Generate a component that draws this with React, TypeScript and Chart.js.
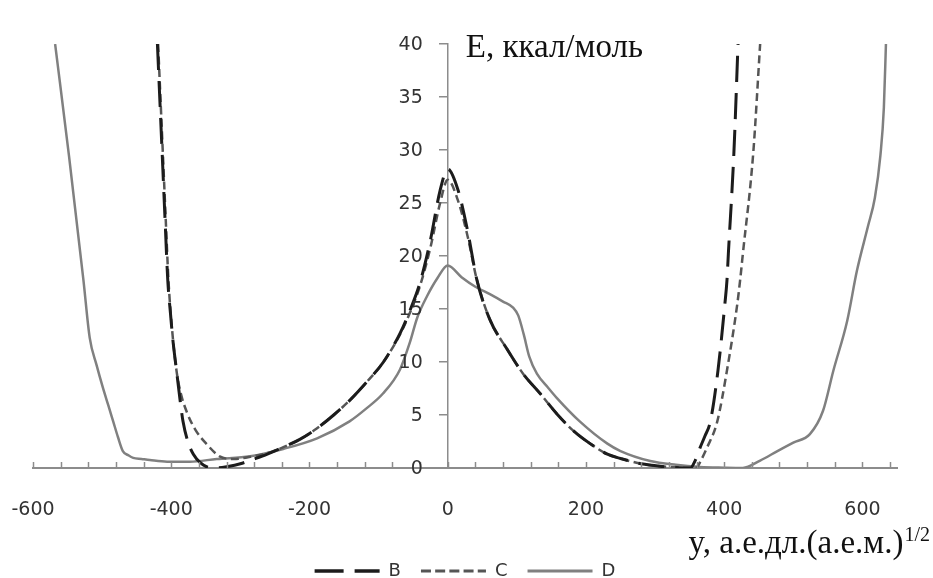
import React, { useEffect, useRef } from 'react';
import { Chart, registerables } from 'chart.js';

Chart.register(...registerables);

// Series B (black long dash)
const bX = [-420, -414, -409, -405, -401, -398, -392, -387, -383, -376, -368, -358, -348, -335, -318, -300, -282, -261, -240, -214, -190, -165, -140, -116, -93, -69, -55, -40, -25, -11, 0, 15, 29, 42, 61, 86, 109, 134, 158, 182, 206, 231, 250, 280, 310, 335, 351, 358, 365, 372, 380, 391, 401, 404, 406, 414, 420];
const bE = [40, 31, 23.5, 17.7, 14.5, 12.3, 9.0, 6.3, 4.4, 2.5, 1.3, 0.5, 0.1, 0.02, 0.15, 0.4, 0.8, 1.3, 1.9, 2.7, 3.7, 5.0, 6.5, 8.2, 10.0, 12.7, 14.8, 17.5, 21.5, 26.2, 28.2, 26.2, 22.3, 17.8, 14.0, 11.2, 8.9, 7.0, 5.1, 3.5, 2.3, 1.3, 0.9, 0.4, 0.15, 0.03, 0, 0.7, 1.9, 3.0, 4.4, 9.2, 15.5, 17.7, 20.2, 29.7, 40];

// Series C (dark grey short dash)
const cX = [-419, -413, -408, -404, -398, -392, -386, -377, -365, -348, -330, -310, -282, -261, -240, -214, -190, -165, -140, -116, -93, -69, -55, -40, -25, -11, 0, 15, 29, 42, 61, 86, 109, 134, 158, 182, 206, 231, 250, 280, 310, 340, 359, 367, 375, 390, 404, 419, 423, 427, 442, 452];
const cE = [40, 31, 23.5, 17.7, 12.5, 9.0, 7.0, 5.2, 3.6, 2.2, 1.1, 0.85, 1.1, 1.4, 1.9, 2.7, 3.7, 5.0, 6.5, 8.2, 10.0, 12.6, 14.6, 17.2, 20.8, 25.0, 27.2, 25.2, 21.8, 17.8, 14.0, 11.2, 8.9, 7.0, 5.1, 3.5, 2.3, 1.3, 0.9, 0.4, 0.15, 0.03, 0, 0.8, 1.9, 4.4, 9.2, 15.5, 17.7, 20.2, 29.7, 40];

// Series D (grey solid)
const dX = [-568, -548, -527, -518, -508, -499, -491, -484, -477, -470, -462, -455, -443, -431, -406, -373, -334, -286, -238, -189, -142, -118, -94, -69, -55, -44, -30, -15, 0, 20, 40, 61, 80, 95, 102, 110, 118, 129, 145, 158, 191, 231, 250, 293, 330, 365, 400, 427, 452, 477, 500, 524, 543, 558, 578, 592, 608, 618, 626, 631, 634];
const dE = [40, 29.5, 17.7, 12.3, 9.7, 7.6, 5.9, 4.4, 2.9, 1.6, 1.2, 0.95, 0.85, 0.75, 0.6, 0.6, 0.85, 1.1, 1.8, 2.8, 4.4, 5.6, 7.0, 9.3, 11.8, 14.2, 16.2, 17.9, 19.1, 18.0, 17.1, 16.4, 15.7, 15.1, 14.4, 12.6, 10.5, 8.9, 7.6, 6.6, 4.4, 2.3, 1.6, 0.66, 0.3, 0.1, 0.03, 0, 0.7, 1.6, 2.4, 3.2, 5.4, 9.2, 13.9, 18.6, 22.8, 25.5, 29.5, 34, 40];

const seriesNames = ['B', 'C', 'D'];
const xTickValues = [-600, -560, -520, -480, -440, -400, -360, -320, -280, -240, -200, -160, -120, -80, -40, 0, 40, 80, 120, 160, 200, 240, 280, 320, 360, 400, 440, 480, 520, 560, 600, 640];
const xLabelValues = [-600, -400, -200, 0, 200, 400, 600];
const yTickValues = [0, 5, 10, 15, 20, 25, 30, 35, 40];
const yTitle = 'E, ккал/моль';
const xTitle = 'y, а.е.дл.(а.е.м.)';
const xTitleSup = '1/2';

const AXIS = '#8c8c8c';
const TICKFONT = { family: '"DejaVu Sans"', size: 19 };
const LEGEND_DASH: number[][] = [[29, 11], [10, 4.2], []];

export default function App() {
  const ref = useRef<HTMLCanvasElement>(null);

  useEffect(() => {
    const pts = (xs: number[], ys: number[]) => xs.map((x, i) => ({ x, y: ys[i] }));
    const decor = {
      id: 'decor',
      afterDraw(chart: any) {
        const { ctx } = chart;
        const xs = chart.scales.x;
        const ys = chart.scales.y;
        const base = ys.getPixelForValue(0);
        const axisX = xs.getPixelForValue(0);
        ctx.save();
        ctx.strokeStyle = AXIS;
        ctx.lineWidth = 1.5;
        xTickValues.forEach((v) => {
          const p = Math.round(xs.getPixelForValue(v)) + 0.5;
          ctx.beginPath();
          ctx.moveTo(p, base);
          ctx.lineTo(p, base - 6);
          ctx.stroke();
        });
        // y tick labels, left of the centred axis
        ctx.fillStyle = '#333';
        ctx.font = '19px "DejaVu Sans"';
        ctx.textAlign = 'right';
        ctx.textBaseline = 'middle';
        yTickValues.forEach((v) => {
          ctx.fillText(String(v), axisX - 25, ys.getPixelForValue(v) + 1);
        });
        ctx.fillStyle = '#111';
        ctx.textBaseline = 'alphabetic';
        ctx.textAlign = 'left';
        ctx.font = '33px "Liberation Serif"';
        ctx.fillText(yTitle, axisX + 18, ys.top + 13);
        ctx.font = '20px "Liberation Serif"';
        const supW = ctx.measureText(xTitleSup).width;
        const rightEdge = xs.right + 33;
        ctx.fillText(xTitleSup, rightEdge - supW, ys.bottom + 73);
        ctx.font = '33px "Liberation Serif"';
        ctx.textAlign = 'right';
        ctx.fillText(xTitle, rightEdge - supW - 1, ys.bottom + 85);
        ctx.restore();
      },
    };

    const chart = new Chart(ref.current as HTMLCanvasElement, {
      type: 'scatter',
      data: {
        datasets: [
          {
            label: seriesNames[0],
            data: pts(bX, bE),
            showLine: true,
            borderColor: '#1c1c1c',
            backgroundColor: '#1c1c1c',
            borderWidth: 3,
            borderDash: [26, 11],
            pointRadius: 0,
            cubicInterpolationMode: 'monotone',
          },
          {
            label: seriesNames[1],
            data: pts(cX, cE),
            showLine: true,
            borderColor: '#555555',
            backgroundColor: '#555555',
            borderWidth: 2.5,
            borderDash: [8, 4.5],
            pointRadius: 0,
            cubicInterpolationMode: 'monotone',
          },
          {
            label: seriesNames[2],
            data: pts(dX, dE),
            showLine: true,
            borderColor: '#808080',
            backgroundColor: '#808080',
            borderWidth: 2.5,
            pointRadius: 0,
            cubicInterpolationMode: 'monotone',
          },
        ],
      },
      options: {
        responsive: false,
        animation: false,
        devicePixelRatio: 1,
        layout: { padding: { left: 33, right: 36, top: 44, bottom: 0 } },
        plugins: {
          tooltip: { enabled: false },
          legend: {
            position: 'bottom',
            labels: {
              usePointStyle: true,
              pointStyle: 'line',
              pointStyleWidth: 65,
              padding: 20,
              color: '#333',
              font: { family: '"DejaVu Sans"', size: 18 },
              generateLabels: (c: any) => {
                const items = (Chart as any).defaults.plugins.legend.labels.generateLabels(c);
                items.forEach((it: any) => {
                  const ds = c.data.datasets[it.datasetIndex];
                  it.lineDash = LEGEND_DASH[it.datasetIndex];
                  it.lineWidth = ds.borderWidth + 0.5;
                  it.strokeStyle = ds.borderColor;
                  it.pointStyle = 'line';
                });
                return items;
              },
            },
          },
        },
        scales: {
          x: {
            type: 'linear',
            min: -600,
            max: 650,
            afterBuildTicks: (s: any) => {
              s.ticks = xTickValues.map((v) => ({ value: v }));
            },
            afterFit: (s: any) => {
              s.height = 74;
            },
            ticks: {
              autoSkip: false,
              maxRotation: 0,
              padding: 0,
              color: '#333',
              font: TICKFONT,
              callback: (v: any) => (xLabelValues.includes(Number(v)) ? String(v) : ''),
            },
            grid: { display: false, drawTicks: true, tickLength: 31 },
            border: { display: true, color: AXIS, width: 2 },
          },
          y: {
            type: 'linear',
            position: { x: 0 } as any,
            min: 0,
            max: 40,
            afterBuildTicks: (s: any) => {
              s.ticks = yTickValues.map((v) => ({ value: v }));
            },
            ticks: { display: false },
            grid: { display: true, drawOnChartArea: false, drawTicks: true, tickLength: 8, color: AXIS, lineWidth: 1.5 },
            border: { display: true, color: AXIS, width: 1.5 },
          },
        },
      },
      plugins: [decor],
    } as any);
    return () => chart.destroy();
  }, []);

  return (
    <div style={{ position: 'fixed', left: 0, top: 0, width: 933, height: 578, overflow: 'hidden', background: '#fff' }}>
      <canvas ref={ref} width={933} height={590} style={{ display: 'block', width: 933, height: 590 }} />
    </div>
  );
}
